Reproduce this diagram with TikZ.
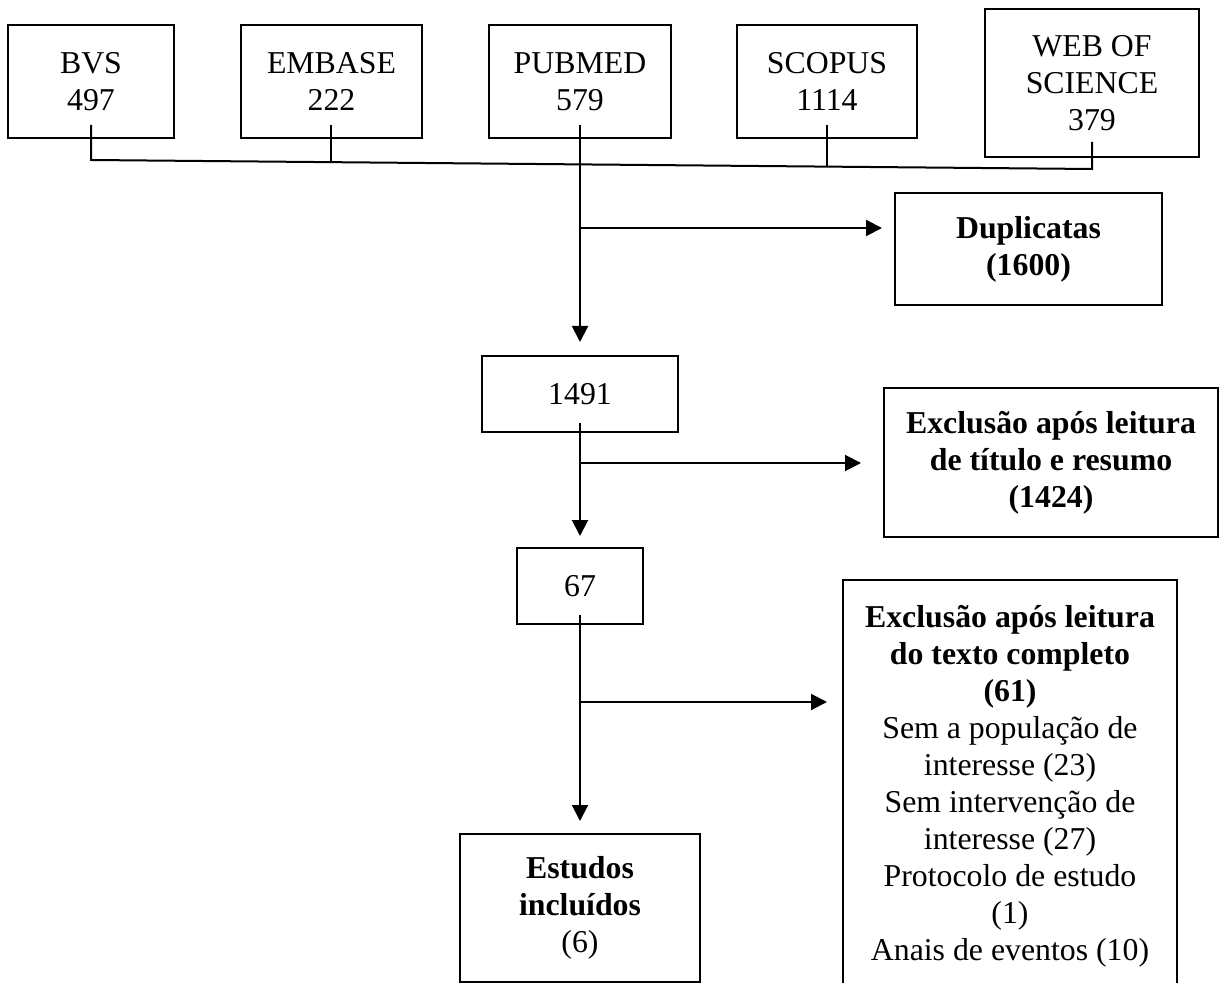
\documentclass[tikz,border=0pt]{standalone}
\usepackage{fontspec}
\setmainfont{Liberation Serif}
\usetikzlibrary{arrows.meta}
\begin{document}
\begin{tikzpicture}[x=0.5pt,y=-0.5pt,
  box/.style={draw, line width=1pt, inner sep=0pt, align=center, font=\fontsize{15.9}{18.5}\selectfont},
  boldbox/.style={box, font=\fontsize{15.9}{18.5}\selectfont\bfseries},
  conn/.style={line width=1pt},
  arr/.style={line width=1pt, -{Triangle[length=8pt,width=8pt]}}]
\useasboundingbox (0,0) rectangle (1219,983);
\fill[white] (0,0) rectangle (1219,983);

% source boxes
\node[box, minimum width=83pt, minimum height=56.5pt] (bvs) at (91,81.5) {BVS\\497};
\node[box, minimum width=90.5pt, minimum height=56.5pt] (emb) at (331.5,81.5) {EMBASE\\222};
\node[box, minimum width=91pt, minimum height=56.5pt] (pub) at (580,81.5) {PUBMED\\579};
\node[box, minimum width=90pt, minimum height=56.5pt] (sco) at (827,81.5) {SCOPUS\\1114};
\node[box, minimum width=107pt, minimum height=74pt] (wos) at (1092,83) {WEB OF\\SCIENCE\\379};

% flow boxes
\node[boldbox, minimum width=133.5pt, minimum height=56pt] (dup) at (1028.5,249) {Duplicatas\\(1600)};
\node[box, minimum width=98pt, minimum height=38pt] (n1491) at (580,394) {1491};
\node[boldbox, minimum width=167pt, minimum height=74.5pt] (exc1) at (1051,462.5) {Exclusão após leitura\\de título e resumo\\(1424)};
\node[box, minimum width=63pt, minimum height=38pt] (n67) at (580,586) {67};
\node[box, minimum width=120pt, minimum height=74pt] (inc) at (580,908) {\textbf{Estudos}\\\textbf{incluídos}\\(6)};
\node[box, minimum width=167pt, minimum height=206pt] (exc2) at (1010,786) {\textbf{Exclusão após leitura}\\\textbf{do texto completo}\\\textbf{(61)}\\Sem a população de\\interesse (23)\\Sem intervenção de\\interesse (27)\\Protocolo de estudo\\(1)\\Anais de eventos (10)};

% connector points
\coordinate (bvsS) at (91,125);
\coordinate (embS) at (331,125);
\coordinate (pubS) at (580,125);
\coordinate (scoS) at (827,125);
\coordinate (wosS) at (1092,142);
\coordinate (bvsJ) at (91,160);
\coordinate (embJ) at (331,162.2);
\coordinate (scoJ) at (827,166.6);
\coordinate (wosJ) at (1092,169);
\coordinate (br1) at (580,228);
\coordinate (s1491) at (580,423);
\coordinate (br2) at (580,463);
\coordinate (s67) at (580,615);
\coordinate (br3) at (580,702);

\draw[conn] (bvsS) -- (bvsJ) -- (wosJ) -- (wosS);
\draw[conn] (embS) -- (embJ);
\draw[conn] (scoS) -- (scoJ);

\draw[arr, shorten >=6.5pt] (pubS) -- (n1491.north);
\draw[arr, shorten >=6pt] (br1) -- (br1 -| dup.west);
\draw[arr, shorten >=5.5pt] (s1491) -- (n67.north);
\draw[arr, shorten >=11pt] (br2) -- (br2 -| exc1.west);
\draw[arr, shorten >=6pt] (s67) -- (inc.north);
\draw[arr, shorten >=7.5pt] (br3) -- (br3 -| exc2.west);
\end{tikzpicture}
\end{document}
